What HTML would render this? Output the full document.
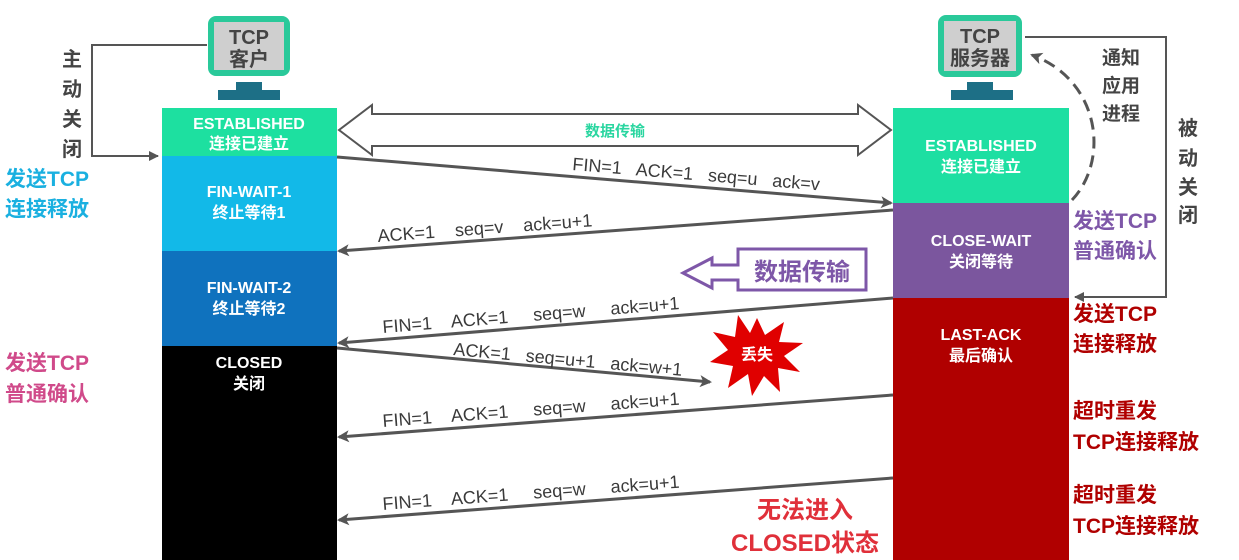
<!DOCTYPE html>
<html><head><meta charset="utf-8"><style>
html,body{margin:0;padding:0;background:#fff;}
svg{display:block;font-family:"Liberation Sans","Noto Sans CJK SC",sans-serif;}
.st{fill:#fff;font-weight:bold;font-size:16px;text-anchor:middle;}
.msg{fill:#3a3a3a;font-size:18px;}
.zh{font-weight:bold;font-size:21px;}
</style></head><body>
<svg width="1239" height="560" viewBox="0 0 1239 560">
<defs>
<marker id="ah" markerWidth="10" markerHeight="10" refX="9" refY="5" orient="auto" markerUnits="userSpaceOnUse"><path d="M0,0 L10,5 L0,10 z" fill="#555"/></marker>
<marker id="ah2" markerWidth="14" markerHeight="14" refX="10" refY="7" orient="auto" markerUnits="userSpaceOnUse"><path d="M0,1 L12,7 L0,13 L3,7 z" fill="#555"/></marker>
</defs>

<g>
<rect x="208" y="16" width="82" height="60" rx="8" fill="#2ac99a"/>
<rect x="214" y="22" width="70" height="48" fill="#cfcfcf"/>
<text x="249" y="44" text-anchor="middle" font-size="20" font-weight="bold" fill="#444">TCP</text>
<text x="249" y="66" text-anchor="middle" font-size="20" font-weight="bold" fill="#444">客户</text>
<rect x="236" y="82" width="26" height="8" fill="#1d6f86"/>
<rect x="218" y="90" width="62" height="10" fill="#1d6f86"/>
</g>
<g>
<rect x="938" y="15" width="84" height="62" rx="8" fill="#2ac99a"/>
<rect x="944" y="21" width="72" height="50" fill="#cfcfcf"/>
<text x="980" y="43" text-anchor="middle" font-size="20" font-weight="bold" fill="#444">TCP</text>
<text x="980" y="65" text-anchor="middle" font-size="20" font-weight="bold" fill="#444">服务器</text>
<rect x="967" y="82" width="26" height="8" fill="#1d6f86"/>
<rect x="951" y="90" width="62" height="10" fill="#1d6f86"/>
</g>

<g>
<rect x="162" y="108" width="175" height="48" fill="#1de0a0"/>
<text class="st" x="249" y="129">ESTABLISHED</text><text class="st" x="249" y="149">连接已建立</text>
<rect x="162" y="156" width="175" height="95" fill="#12b9e8"/>
<text class="st" x="249" y="197">FIN-WAIT-1</text><text class="st" x="249" y="218">终止等待1</text>
<rect x="162" y="251" width="175" height="95" fill="#0f72be"/>
<text class="st" x="249" y="293">FIN-WAIT-2</text><text class="st" x="249" y="314">终止等待2</text>
<rect x="162" y="346" width="175" height="214" fill="#000"/>
<text class="st" x="249" y="368">CLOSED</text><text class="st" x="249" y="389">关闭</text>
</g>
<g>
<rect x="893" y="108" width="176" height="95" fill="#1ddfa2"/>
<text class="st" x="981" y="151">ESTABLISHED</text><text class="st" x="981" y="172">连接已建立</text>
<rect x="893" y="203" width="176" height="95" fill="#7b569e"/>
<text class="st" x="981" y="246">CLOSE-WAIT</text><text class="st" x="981" y="267">关闭等待</text>
<rect x="893" y="298" width="176" height="262" fill="#b00000"/>
<text class="st" x="981" y="340">LAST-ACK</text><text class="st" x="981" y="361">最后确认</text>
</g>

<g>
<path d="M339,130 L372,105 L372,114 L858,114 L858,105 L891,130 L858,155 L858,146 L372,146 L372,155 Z" fill="#fff" stroke="#555" stroke-width="2"/>
<text x="615" y="136" text-anchor="middle" font-size="15" font-weight="bold" fill="#2ad6a0">数据传输</text>
</g>

<path d="M207,45 L92,45 L92,156 L158,156" fill="none" stroke="#555" stroke-width="2" marker-end="url(#ah)"/>
<g fill="#444" font-size="20" font-weight="bold" text-anchor="middle">
<text x="72" y="66">主</text><text x="72" y="96">动</text><text x="72" y="126">关</text><text x="72" y="156">闭</text>
</g>
<path d="M1025,37 L1166,37 L1166,297 L1075,297" fill="none" stroke="#555" stroke-width="2" marker-end="url(#ah)"/>
<g fill="#444" font-size="20" font-weight="bold" text-anchor="middle">
<text x="1188" y="135">被</text><text x="1188" y="165">动</text><text x="1188" y="194">关</text><text x="1188" y="222">闭</text>
</g>
<g fill="#444" font-size="19" font-weight="bold">
<text x="1102" y="64">通知</text><text x="1102" y="92">应用</text><text x="1102" y="120">进程</text>
</g>
<path d="M1072,200 C1110,160 1100,80 1032,55" fill="none" stroke="#555" stroke-width="3" stroke-dasharray="12,7" marker-end="url(#ah2)"/>

<g>
<line x1="337" y1="157" x2="891" y2="203" stroke="#555" stroke-width="3" marker-end="url(#ah2)"/>
<text class="msg" transform="translate(572,170) rotate(4.7)" xml:space="preserve">FIN=1   ACK=1   seq=u   ack=v</text>
</g>
<g>
<line x1="893" y1="210" x2="339" y2="251" stroke="#555" stroke-width="3" marker-end="url(#ah2)"/>
<text class="msg" transform="translate(378,242) rotate(-4.2)" xml:space="preserve">ACK=1    seq=v    ack=u+1</text>
</g>
<g>
<line x1="893" y1="298" x2="339" y2="343" stroke="#555" stroke-width="3" marker-end="url(#ah2)"/>
<text class="msg" transform="translate(383,333) rotate(-4.6)" xml:space="preserve">FIN=1    ACK=1     seq=w     ack=u+1</text>
</g>
<g>
<line x1="337" y1="348" x2="710" y2="382" stroke="#555" stroke-width="3" marker-end="url(#ah2)"/>
<text class="msg" transform="translate(453,355) rotate(5.2)" xml:space="preserve">ACK=1   seq=u+1   ack=w+1</text>
</g>
<g>
<line x1="893" y1="395" x2="339" y2="437" stroke="#555" stroke-width="3" marker-end="url(#ah2)"/>
<text class="msg" transform="translate(383,427) rotate(-4.3)" xml:space="preserve">FIN=1    ACK=1     seq=w     ack=u+1</text>
</g>
<g>
<line x1="893" y1="478" x2="339" y2="520" stroke="#555" stroke-width="3" marker-end="url(#ah2)"/>
<text class="msg" transform="translate(383,510) rotate(-4.3)" xml:space="preserve">FIN=1    ACK=1     seq=w     ack=u+1</text>
</g>

<g>
<path d="M683,273 L712,258 L712,265 L738,265 L738,249 L866,249 L866,290 L738,290 L738,280 L712,280 L712,288 Z" fill="#fff" stroke="#7e57a8" stroke-width="3"/>
<text x="802" y="280" text-anchor="middle" font-size="24" font-weight="bold" fill="#7e57a8">数据传输</text>
</g>

<g>
<polygon points="757,318 765,335 784,322 779,342 803,343 784,356 800,372 778,368 780,392 764,376 752,396 748,374 728,388 733,366 710,362 728,350 713,332 735,337 738,315 750,333" fill="#e00000"/>
<text x="757" y="360" text-anchor="middle" font-size="16" font-weight="bold" fill="#fff">丢失</text>
</g>

<g fill="#1ab0e0">
<text x="5" y="186" class="zh">发送TCP</text><text x="5" y="216" class="zh">连接释放</text></g>
<g fill="#d04a8a">
<text x="5" y="370" class="zh">发送TCP</text><text x="5" y="401" class="zh">普通确认</text></g>
<g fill="#7e57a8">
<text x="1073" y="228" class="zh">发送TCP</text><text x="1073" y="258" class="zh">普通确认</text></g>
<g fill="#b00000">
<text x="1073" y="321" class="zh">发送TCP</text><text x="1073" y="351" class="zh">连接释放</text>
<text x="1073" y="418" class="zh">超时重发</text><text x="1073" y="449" class="zh">TCP连接释放</text>
<text x="1073" y="502" class="zh">超时重发</text><text x="1073" y="533" class="zh">TCP连接释放</text></g>
<g fill="#e0303a" font-size="24" font-weight="bold" text-anchor="middle">
<text x="805" y="518">无法进入</text><text x="805" y="551">CLOSED状态</text></g>
</svg>
</body></html>
